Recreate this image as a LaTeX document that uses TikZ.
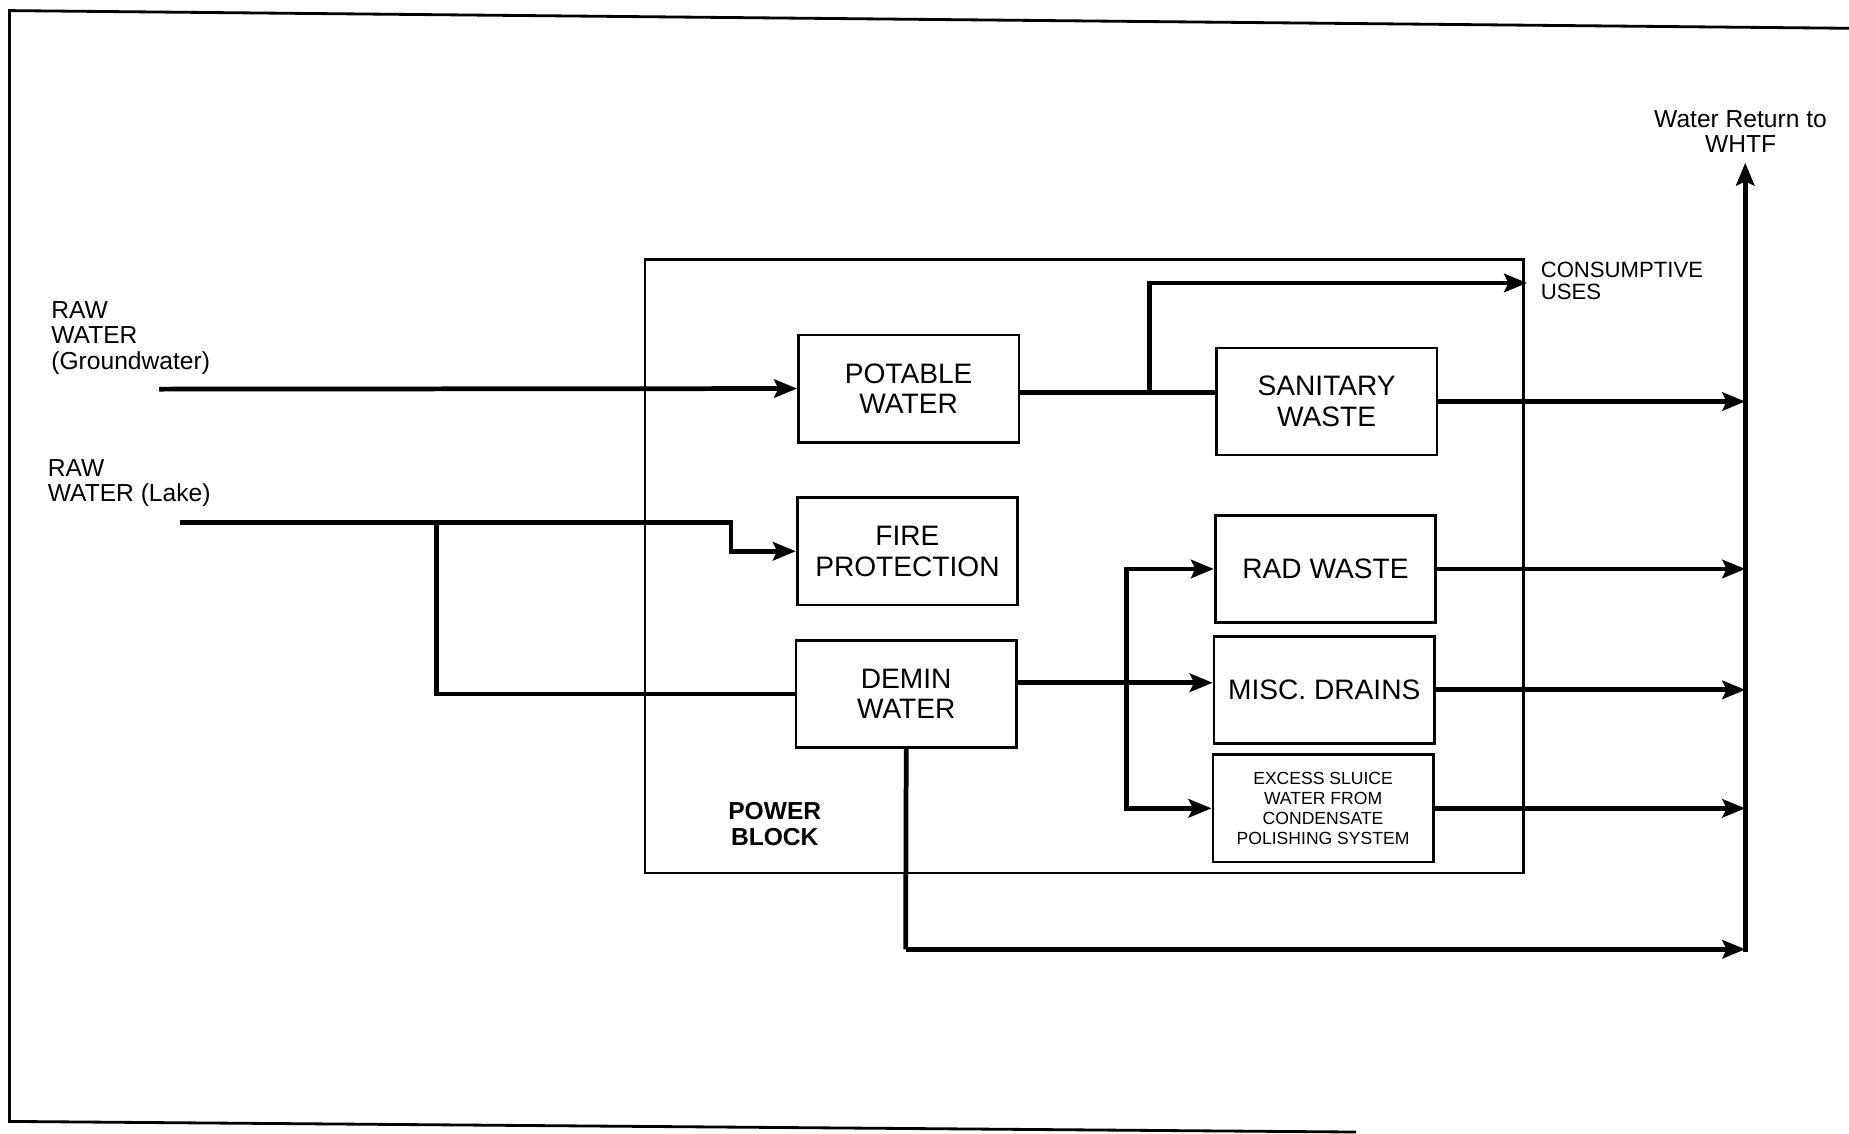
\documentclass[tikz,border=0pt]{standalone}
\usepackage{fontspec}
\setmainfont{Liberation Sans}
\usetikzlibrary{arrows.meta,calc}
\begin{document}
\begin{tikzpicture}[x=0.011792cm,y=-0.011792cm,
  flowbox/.style={draw,line width=0.75pt,minimum width=2.205cm,minimum height=1.073cm,align=center,inner sep=1pt,font=\fontsize{8}{8.7}\selectfont},
  pipe/.style={line width=1.35pt},
  flow/.style={line width=1.35pt,-{Stealth[length=6.5pt,width=5.2pt,inset=1.2pt]}},
  lbl/.style={inner sep=0pt,align=left}]
\useasboundingbox (0,0) rectangle (1568,961);
% page frame
\draw[line width=0.8pt] (1568,24) -- (8,9) -- (8,951) -- (1150,960);
% power block
\node[draw,line width=0.6pt,minimum width=8.785cm,minimum height=6.132cm] (pb) at (919.5,480) {};
\node[align=center,inner sep=0pt,font=\fontsize{7}{7.3}\selectfont\bfseries] (pbl) at (657,699) {POWER\\BLOCK};
% boxes
\node[flowbox] (potable) at (770.5,329.5) {POTABLE\\WATER};
\node[flowbox] (fire) at (769.5,467.5) {FIRE\\PROTECTION};
\node[flowbox] (demin) at (768.5,588.5) {DEMIN\\WATER};
\node[flowbox] (sanitary) at (1125,340.5) {SANITARY\\WASTE};
\node[flowbox] (rad) at (1124,482.5) {RAD WASTE};
\node[flowbox] (misc) at (1123,585) {MISC. DRAINS};
\node[flowbox,font=\fontsize{5}{5.7}\selectfont] (excess) at (1122,685.5) {EXCESS SLUICE\\WATER FROM\\CONDENSATE\\POLISHING SYSTEM};
% labels
\node[lbl,anchor=north west,font=\fontsize{7}{7.3}\selectfont] (gwl) at (43,255) {RAW\\WATER\\(Groundwater)};
\node[lbl,anchor=north west,font=\fontsize{7}{7.3}\selectfont] (lkl) at (40,389) {RAW\\WATER (Lake)};
\node[lbl,anchor=north west,font=\fontsize{6.3}{6.1}\selectfont] (cul) at (1306,222) {CONSUMPTIVE\\USES};
\node[inner sep=0pt,align=center,anchor=north,font=\fontsize{7}{7.1}\selectfont] (whtf) at (1476,93) {Water Return to\\WHTF};
% coordinates
\coordinate (gw) at (135,330);
\coordinate (pw) at (0,333);
\coordinate (lk) at (153,443);
\coordinate (br) at (370,443);
\coordinate (lkb) at (620,443);
\coordinate (j1) at (975,333);
\coordinate (cu) at (1295,240);
\coordinate (rtop) at (1480,138);
\coordinate (rbot) at (1480,807);
\coordinate (dm) at (955,579);
\coordinate (db) at (768,805);
% connectors
\draw[flow] (gw) -- (potable.west);
\draw[pipe] (potable.east |- pw) -- (sanitary.west |- pw);
\draw[flow] (j1) |- (cu);
\draw[flow] (lk) -- (lkb) |- (fire.west);
\draw[pipe] (br) |- (demin.west);
\draw[flow] (demin.east |- dm) -- (misc.west |- dm);
\draw[flow] (dm) |- (rad.west);
\draw[flow] (dm) |- (excess.west);
\draw[pipe] (demin.south) -- (db);
\draw[flow] (db) -- (db -| rtop);
\draw[flow] (sanitary.east) -- (sanitary.east -| rtop);
\draw[flow] (rad.east) -- (rad.east -| rtop);
\draw[flow] (misc.east) -- (misc.east -| rtop);
\draw[flow] (excess.east) -- (excess.east -| rtop);
\draw[flow] (rbot) -- (rtop);
\end{tikzpicture}
\end{document}
